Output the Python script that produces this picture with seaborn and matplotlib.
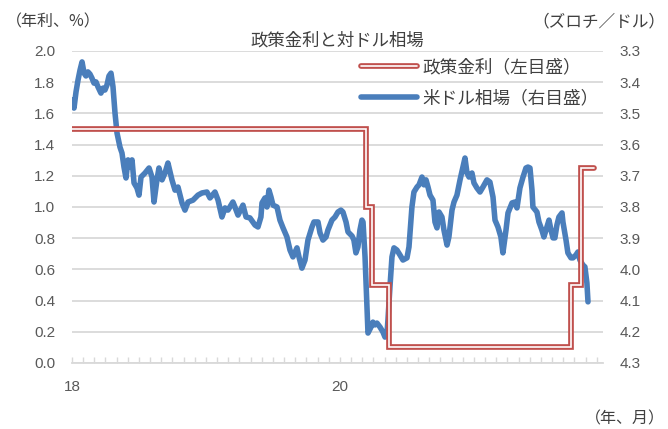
import matplotlib
matplotlib.use("Agg")
import matplotlib.pyplot as plt
import seaborn as sns
import pandas as pd
from matplotlib.lines import Line2D
from matplotlib.legend_handler import HandlerTuple
from matplotlib.ticker import MultipleLocator, FixedLocator, FormatStrFormatter

# ---- data ---------------------------------------------------------------
# weekly USD/PLN (zloty per dollar), time as decimal year
fx_time = [
    2018.000, 2018.015, 2018.030, 2018.045, 2018.060, 2018.075, 2018.090, 2018.104,
    2018.119, 2018.134, 2018.149, 2018.164, 2018.179, 2018.194, 2018.216, 2018.231,
    2018.246, 2018.261, 2018.276, 2018.291, 2018.306, 2018.321, 2018.336, 2018.358,
    2018.373, 2018.388, 2018.403, 2018.418, 2018.433, 2018.448, 2018.463, 2018.485,
    2018.500, 2018.515, 2018.545, 2018.575, 2018.597, 2018.612, 2018.634, 2018.649,
    2018.672, 2018.694, 2018.716, 2018.746, 2018.769, 2018.791, 2018.821, 2018.843,
    2018.866, 2018.903, 2018.940, 2018.970, 2019.007, 2019.030, 2019.067, 2019.090,
    2019.119, 2019.142, 2019.164, 2019.201, 2019.216, 2019.239, 2019.276, 2019.299,
    2019.328, 2019.366, 2019.388, 2019.410, 2019.418, 2019.440, 2019.455, 2019.470,
    2019.485, 2019.500, 2019.530, 2019.552, 2019.575, 2019.604, 2019.627, 2019.649,
    2019.679, 2019.694, 2019.716, 2019.739, 2019.761, 2019.791, 2019.806, 2019.836,
    2019.851, 2019.873, 2019.896, 2019.910, 2019.940, 2019.963, 2019.985, 2020.007,
    2020.022, 2020.045, 2020.060, 2020.090, 2020.104, 2020.119, 2020.134, 2020.149,
    2020.164, 2020.172, 2020.187, 2020.201, 2020.209, 2020.231, 2020.246, 2020.261,
    2020.276, 2020.299, 2020.321, 2020.336, 2020.351, 2020.358, 2020.373, 2020.388,
    2020.403, 2020.425, 2020.448, 2020.470, 2020.500, 2020.515, 2020.537, 2020.552,
    2020.575, 2020.590, 2020.612, 2020.627, 2020.642, 2020.657, 2020.672, 2020.694,
    2020.709, 2020.724, 2020.739, 2020.761, 2020.776, 2020.799, 2020.813, 2020.836,
    2020.851, 2020.873, 2020.896, 2020.918, 2020.933, 2020.948, 2020.963, 2020.985,
    2021.000, 2021.022, 2021.045, 2021.067, 2021.097, 2021.119, 2021.142, 2021.157,
    2021.179, 2021.201, 2021.216, 2021.239, 2021.254, 2021.284, 2021.306, 2021.321,
    2021.343, 2021.366, 2021.388, 2021.403, 2021.418, 2021.433, 2021.440, 2021.470,
    2021.485, 2021.507, 2021.522, 2021.545, 2021.560, 2021.575, 2021.590, 2021.604,
    2021.619, 2021.634, 2021.657, 2021.664, 2021.687, 2021.701, 2021.724, 2021.739,
    2021.761, 2021.776, 2021.791, 2021.813, 2021.828, 2021.843, 2021.851,
]
usd_pln = [
    3.457, 3.483, 3.431, 3.393, 3.361, 3.335, 3.371, 3.380,
    3.367, 3.374, 3.387, 3.403, 3.399, 3.415, 3.435, 3.419,
    3.425, 3.409, 3.380, 3.371, 3.415, 3.499, 3.563, 3.608,
    3.627, 3.672, 3.707, 3.649, 3.672, 3.649, 3.723, 3.739,
    3.762, 3.704, 3.691, 3.675, 3.704, 3.784, 3.713, 3.675,
    3.713, 3.691, 3.659, 3.713, 3.746, 3.736, 3.787, 3.810,
    3.784, 3.778, 3.762, 3.755, 3.752, 3.771, 3.752, 3.778,
    3.832, 3.803, 3.810, 3.784, 3.800, 3.826, 3.794, 3.832,
    3.835, 3.858, 3.864, 3.832, 3.787, 3.771, 3.800, 3.746,
    3.768, 3.794, 3.800, 3.842, 3.867, 3.896, 3.938, 3.960,
    3.931, 3.960, 3.996, 3.970, 3.906, 3.864, 3.848, 3.848,
    3.883, 3.906, 3.896, 3.874, 3.842, 3.832, 3.816, 3.810,
    3.816, 3.848, 3.880, 3.893, 3.906, 3.947, 3.928, 3.874,
    3.842, 3.848, 3.960, 4.121, 4.204, 4.185, 4.169, 4.178,
    4.172, 4.185, 4.201, 4.217, 4.204, 4.162, 4.056, 3.960,
    3.931, 3.938, 3.954, 3.970, 3.963, 3.928, 3.800, 3.752,
    3.736, 3.729, 3.704, 3.729, 3.713, 3.736, 3.762, 3.778,
    3.848, 3.867, 3.816, 3.832, 3.874, 3.922, 3.896, 3.810,
    3.784, 3.762, 3.713, 3.672, 3.643, 3.691, 3.704, 3.691,
    3.723, 3.739, 3.752, 3.736, 3.713, 3.720, 3.768, 3.842,
    3.864, 3.896, 3.947, 3.874, 3.819, 3.787, 3.784, 3.803,
    3.739, 3.704, 3.675, 3.672, 3.675, 3.746, 3.800, 3.816,
    3.848, 3.874, 3.896, 3.864, 3.842, 3.874, 3.899, 3.899,
    3.858, 3.832, 3.819, 3.848, 3.906, 3.947, 3.963, 3.963,
    3.954, 3.944, 3.970, 3.986, 3.992, 4.044, 4.104,
]

# policy rate (% p.a.), value in force from each date
rate_time = [2018.000, 2020.196, 2020.236, 2020.364, 2021.725, 2021.801, 2021.896]
policy_rate = [1.50, 1.00, 0.50, 0.10, 0.50, 1.25, 1.25]

left_ticks = [0.0, 0.2, 0.4, 0.6, 0.8, 1.0, 1.2, 1.4, 1.6, 1.8, 2.0]
right_ticks = [3.3, 3.4, 3.5, 3.6, 3.7, 3.8, 3.9, 4.0, 4.1, 4.2, 4.3]
year_ticks = [2018, 2020]
year_labels = ["18", "20"]

title = "政策金利と対ドル相場"
rate_label = "政策金利（左目盛）"
fx_label = "米ドル相場（右目盛）"

# ---- style --------------------------------------------------------------
sns.set_style("white")
plt.rcParams["font.family"] = ["Liberation Sans", "Noto Sans CJK JP", "DejaVu Sans"]

RED = "#C0504D"
BLUE = "#4A7EBB"
GRID = "#D9D9D9"
TXT = "#595959"

fx_df = pd.DataFrame({"t": fx_time, "fx": usd_pln})
rate_df = pd.DataFrame({"t": rate_time, "rate": policy_rate})

fig = plt.figure(figsize=(6.68, 4.29), dpi=100)
ax = fig.add_axes([72 / 668, 1 - 363 / 429, (603 - 72) / 668, (363 - 51) / 429])
ax2 = ax.twinx()

# exchange rate on the inverted right axis (drawn underneath)
sns.lineplot(data=fx_df, x="t", y="fx", ax=ax2, color=BLUE, lw=4.0,
             solid_joinstyle="round", solid_capstyle="round", legend=False)
ax2.set_ylim(4.3, 3.3)
ax2.yaxis.set_major_locator(FixedLocator(right_ticks))
ax2.yaxis.set_major_formatter(FormatStrFormatter("%.1f"))
ax2.grid(axis="y", color=GRID, lw=1.3)
ax2.grid(axis="x", visible=False)
ax2.set_axisbelow(True)

# policy rate as a double line on the left axis (drawn on top)
sns.lineplot(data=rate_df, x="t", y="rate", ax=ax, color=RED, lw=4.1,
             drawstyle="steps-post", solid_joinstyle="miter",
             solid_capstyle="round", legend=False)
sns.lineplot(data=rate_df, x="t", y="rate", ax=ax, color="white", lw=1.2,
             drawstyle="steps-post", solid_joinstyle="miter",
             solid_capstyle="round", legend=False)
ax.set_ylim(0.0, 2.0)
ax.yaxis.set_major_locator(FixedLocator(left_ticks))
ax.yaxis.set_major_formatter(FormatStrFormatter("%.1f"))
ax.grid(False)

ax.set_zorder(ax2.get_zorder() + 1)
ax.patch.set_visible(False)

ax.set_xlim(2018.0, 2021.963)
ax.xaxis.set_major_locator(FixedLocator(year_ticks))
ax.set_xticklabels(year_labels)
ax.xaxis.set_minor_locator(MultipleLocator(1 / 12))

for a in (ax, ax2):
    a.set_xlabel("")
    a.set_ylabel("")
    for s in ("top", "left", "right", "bottom"):
        a.spines[s].set_visible(False)
ax.spines["bottom"].set_visible(True)
ax.spines["bottom"].set_color(GRID)
ax.spines["bottom"].set_linewidth(1.3)

ax.tick_params(axis="x", which="both", bottom=True, direction="in", length=4,
               width=1.0, color=GRID, labelsize=11, labelcolor=TXT, pad=12)
ax.tick_params(axis="y", length=0, labelsize=11, labelcolor=TXT, pad=12)
ax2.tick_params(axis="y", length=0, labelsize=11, labelcolor=TXT, pad=12)

# legend
h_rate = (Line2D([], [], color=RED, lw=4.1, solid_capstyle="round"),
          Line2D([], [], color="white", lw=1.2, solid_capstyle="round"))
h_fx = Line2D([], [], color=BLUE, lw=4.0, solid_capstyle="round")
fig.legend([h_rate, h_fx], [rate_label, fx_label],
           handler_map={tuple: HandlerTuple(ndivide=1)},
           loc="center left", bbox_to_anchor=(361 / 668, 1 - 82.5 / 429),
           frameon=False, borderpad=0, borderaxespad=0,
           handlelength=3.2, handletextpad=0.3, labelspacing=0.75,
           prop={"family": ["Noto Sans CJK JP", "DejaVu Sans"], "size": 12.7},
           labelcolor="#404040")

# title and unit captions
cjk = ["Noto Sans CJK JP", "DejaVu Sans"]
fig.text(337.5 / 668, 1 - 41 / 429, title, ha="center", va="center",
         fontsize=12.5, color="#404040", family=cjk)
fig.text(6 / 668, 1 - 22 / 429, "（年利、%）", ha="left", va="center",
         fontsize=11.5, color="#404040", family=cjk)
fig.text(665 / 668, 1 - 22 / 429, "（ズロチ／ドル）", ha="right", va="center",
         fontsize=12, color="#404040", family=cjk)
fig.text(665 / 668, 1 - 419 / 429, "（年、月）", ha="right", va="center",
         fontsize=11.5, color="#404040", family=cjk)

fig.savefig("out.png", dpi=100)
